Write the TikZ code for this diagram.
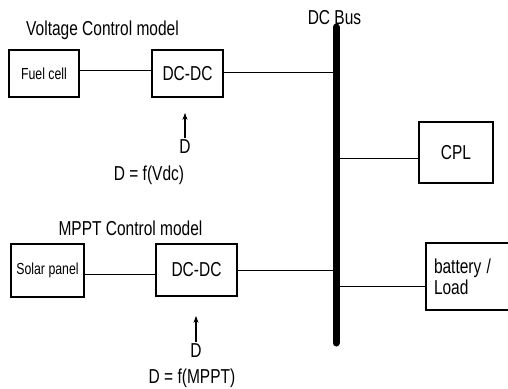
\documentclass[tikz,border=0pt]{standalone}
\usepackage{fontspec}
\setmainfont{Liberation Sans}
\usetikzlibrary{arrows.meta}
\newcommand{\hs}[1]{\scalebox{1}[1.3]{#1}}
\tikzset{
	blk/.style={draw, line width=1.1pt, inner sep=0pt, align=center},
	txt/.style={font=\fontsize{15.5}{19}\selectfont, inner sep=0pt},
	small/.style={font=\fontsize{12.3}{15}\selectfont},
	ln/.style={line width=1pt},
	ctl/.style={line width=1.2pt, -{Stealth[length=7pt,width=5pt]}}
}
\begin{document}
\begin{tikzpicture}[x=1pt, y=-1pt]
	\useasboundingbox (0,0) rectangle (508,388);
% Spannungsregelung (oben)
	\node [txt] (vcm) at (102.5,30) {\hs{Voltage Control model}};
	\node [blk, small, minimum width=70pt, minimum height=47pt] (fuel) at (44,73.5) {\hs{Fuel cell}};
	\node [blk, txt, minimum width=71pt, minimum height=47pt] (dc1) at (187.5,73.5) {\hs{DC-DC}};
	\node [txt] (d1) at (185,147) {\hs{D}};
	\node [txt] (f1) at (149,175) {\hs{D = f(Vdc)}};
% MPPT (unten)
	\node [txt] (mcm) at (130.5,228) {\hs{MPPT Control model}};
	\node [blk, small, minimum width=73pt, minimum height=53pt] (solar) at (47.5,270.5) {\hs{Solar panel}};
	\node [blk, txt, minimum width=81pt, minimum height=52pt] (dc2) at (196.5,270) {\hs{DC-DC}};
	\node [txt] (d2) at (196,351) {\hs{D}};
	\node [txt] (f2) at (192,378) {\hs{D = f(MPPT)}};
% Bus und Lasten
	\coordinate (bustop) at (336,27);
	\coordinate (busbot) at (336,343);
	\node [txt] (bus) at (334.5,18) {\hs{DC Bus}};
	\node [blk, txt, minimum width=74pt, minimum height=61pt] (cpl) at (456,152.5) {\hs{CPL}};
	\node [blk, txt, minimum width=86pt, minimum height=67pt, text width=70pt, align=left] (bat) at (469,276.5) {\hs{battery /}\\[2pt]\hs{Load}};
% Linien
	\draw [ln] ([yshift=3.5pt]fuel.east) -- ([yshift=3.5pt]fuel.east -| dc1.west);
	\draw [ln] ([yshift=1.5pt]dc1.east) -- ([yshift=1.5pt]dc1.east -| bustop);
	\draw [ln] ([yshift=-3.5pt]solar.east) -- ([yshift=-3.5pt]solar.east -| dc2.west);
	\draw [ln] (dc2.east) -- (dc2.east -| bustop);
	\draw [ln] ([yshift=-5.5pt]cpl.west) -- ([yshift=-5.5pt]cpl.west -| bustop);
	\draw [ln] ([yshift=-9.5pt]bat.west) -- ([yshift=-9.5pt]bat.west -| bustop);
	\draw [line width=7pt, line cap=round] (bustop) -- (busbot);
% Tastgrad
	\draw [ctl] ([yshift=2pt]d1.north) -- ++(0,-25);
	\draw [ctl] ([yshift=2pt]d2.north) -- ++(0,-26);
\end{tikzpicture}
\end{document}
